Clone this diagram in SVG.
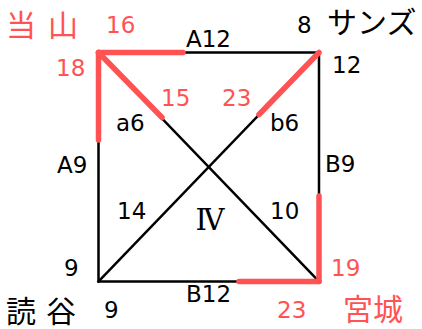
<svg xmlns="http://www.w3.org/2000/svg" width="422" height="329" viewBox="0 0 422 329">
<style>
.k{stroke:#000;stroke-width:2.5;fill:none;stroke-linecap:square}
.r{stroke:#FF5252;stroke-width:5.5;fill:none;stroke-linecap:round}
text{font-family:"DejaVu Sans","Noto Sans CJK JP",sans-serif;font-size:23px;fill:#000}
.rt{fill:#FF5252}
.jp{font-family:"Noto Sans CJK JP",sans-serif;font-size:30px}
.num{font-family:"DejaVu Serif","Liberation Serif","Noto Sans CJK JP",serif;font-size:29px}
</style>
<rect width="422" height="329" fill="#fff"/>
<g id="connectors">
<rect class="k" x="98.5" y="52.5" width="220.5" height="229"/>
<line class="k" x1="98.5" y1="52.5" x2="319" y2="281.5"/>
<line class="k" x1="319" y1="52.5" x2="98.5" y2="281.5"/>
<line class="r" x1="98.5" y1="52.5" x2="183" y2="52.5"/>
<line class="r" x1="98.5" y1="52.5" x2="98.5" y2="140"/>
<line class="r" x1="98.5" y1="52.5" x2="162" y2="117.5"/>
<line class="r" x1="319" y1="52.5" x2="259" y2="114.5"/>
<line class="r" x1="319" y1="196" x2="319" y2="281.5"/>
<line class="r" x1="239" y1="281.5" x2="319" y2="281.5"/>
</g>
<g id="node-toyama">
<text class="jp rt" x="6" y="36" letter-spacing="12">当山</text>
<text class="rt" x="106" y="33">16</text>
<text class="rt" x="56" y="76">18</text>
</g>
<g id="node-sands">
<text x="297" y="33">8</text>
<text class="jp" x="327" y="33" font-size="29">サンズ</text>
<text x="332" y="73">12</text>
</g>
<g id="node-yomitan">
<text class="jp" x="6" y="322" letter-spacing="10">読谷</text>
<text x="64" y="276">9</text>
<text x="104" y="318">9</text>
</g>
<g id="node-miyagi">
<text class="jp rt" x="343" y="320">宮城</text>
<text class="rt" x="331" y="276">19</text>
<text class="rt" x="277" y="318">23</text>
</g>
<g id="edge-labels">
<text x="186" y="47">A12</text>
<text x="186" y="302">B12</text>
<text x="57" y="173">A9</text>
<text x="325" y="172">B9</text>
<text x="116" y="131">a6</text>
<text x="270" y="131">b6</text>
<text class="rt" x="161" y="106">15</text>
<text class="rt" x="222" y="106">23</text>
<text x="117" y="219">14</text>
<text x="270" y="219">10</text>
<text class="num" x="210" y="230" text-anchor="middle">Ⅳ</text>
</g>
</svg>
